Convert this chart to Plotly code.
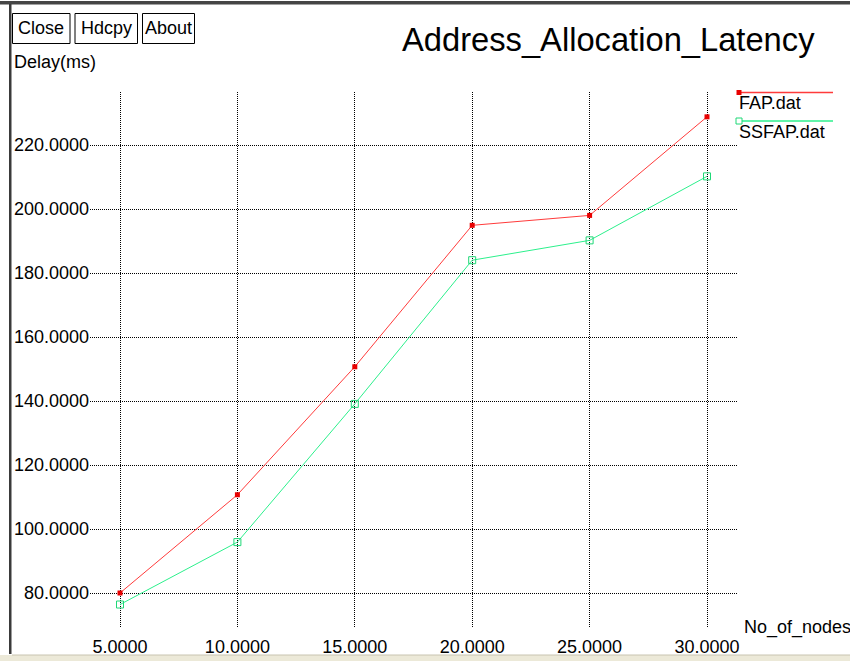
import plotly.graph_objects as go

# Address allocation latency vs. number of nodes
nodes = [5, 10, 15, 20, 25, 30]
fap_delay = [80.0, 110.7, 150.7, 194.9, 198.0, 228.8]
ssfap_delay = [76.4, 95.9, 139.1, 184.0, 190.2, 210.2]
series_names = ["FAP.dat", "SSFAP.dat"]
x_ticks = [5, 10, 15, 20, 25, 30]
y_ticks = [80, 100, 120, 140, 160, 180, 200, 220]

W, H = 850, 661
L, R, T, B = 90, 737, 92, 628  # plot area in pixels
FONT = "Liberation Sans, Arial, Helvetica, sans-serif"
RED_LINE, RED_MARK = "#ff3b3b", "#e80000"
GREEN_LINE, GREEN_MARK = "#2cf08c", "#1fd877"
GRID_DASH = "1px,1px"


def px(x):
    return (x - L) / (R - L)


def py(y):
    return (B - y) / (B - T)


fig = go.Figure()
fig.add_trace(go.Scatter(
    x=nodes, y=fap_delay, mode="lines+markers", name=series_names[0],
    line=dict(color=RED_LINE, width=1),
    marker=dict(symbol="square", size=5, color=RED_MARK, line=dict(width=0)),
    cliponaxis=False,
))
fig.add_trace(go.Scatter(
    x=nodes, y=ssfap_delay, mode="lines+markers", name=series_names[1],
    line=dict(color=GREEN_LINE, width=1),
    marker=dict(symbol="square-open", size=7, color=GREEN_MARK, line=dict(width=1)),
    cliponaxis=False,
))

# axis ranges chosen so that the grid extends past the data like xgraph
x_per_px = 5 / 117.4
y_per_px = 20 / 64.0
x_lo = 5 - (120 - L) * x_per_px
x_hi = x_lo + (R - L) * x_per_px
y_lo = 80 - (B - 593) * y_per_px
y_hi = y_lo + (B - T) * y_per_px

fig.update_layout(
    width=W, height=H,
    margin=dict(l=L, r=W - R, t=T, b=H - B, pad=0, autoexpand=False),
    paper_bgcolor="white", plot_bgcolor="white",
    showlegend=False,
    font=dict(family=FONT, size=18, color="black"),
    xaxis=dict(
        range=[x_lo, x_hi], tickvals=x_ticks,
        ticktext=[f"{v:.4f}" for v in x_ticks],
        showgrid=True, gridcolor="black", griddash=GRID_DASH, gridwidth=1,
        zeroline=False, showline=False, ticks="", automargin=False,
        ticklabelstandoff=6,
        tickfont=dict(size=18, family=FONT, color="black"),
    ),
    yaxis=dict(
        range=[y_lo, y_hi], tickvals=y_ticks,
        ticktext=[f"{v:.4f}" for v in y_ticks],
        showgrid=True, gridcolor="black", griddash=GRID_DASH, gridwidth=1,
        zeroline=False, showline=False, ticks="", automargin=False,
        ticklabelstandoff=0,
        tickfont=dict(size=18, family=FONT, color="black"),
    ),
)

shapes = []
annotations = []

# window frame
shapes.append(dict(type="rect", xref="paper", yref="paper",
                   x0=px(0), x1=px(W), y0=py(1), y1=py(4.5),
                   fillcolor="#454545", line=dict(width=0), layer="above"))
shapes.append(dict(type="rect", xref="paper", yref="paper",
                   x0=px(9), x1=px(11.5), y0=py(4), y1=py(654),
                   fillcolor="#3a3a3a", line=dict(width=0), layer="above"))
shapes.append(dict(type="rect", xref="paper", yref="paper",
                   x0=px(0), x1=px(W), y0=py(655), y1=py(H + 2),
                   fillcolor="#ece9d8", line=dict(width=0), layer="above"))
shapes.append(dict(type="line", xref="paper", yref="paper",
                   x0=px(12), x1=px(W), y0=py(655), y1=py(655),
                   line=dict(color="#c8c4b0", width=1), layer="above"))

# buttons
for label, x0, x1 in [("Close", 12.5, 70), ("Hdcpy", 75, 137.5), ("About", 142.5, 194.5)]:
    shapes.append(dict(type="rect", xref="paper", yref="paper",
                       x0=px(x0), x1=px(x1), y0=py(43.5), y1=py(13.5),
                       line=dict(color="black", width=1), fillcolor="white",
                       layer="above"))
    annotations.append(dict(text=label, xref="paper", yref="paper",
                            x=px((x0 + x1) / 2), y=py(28),
                            xanchor="center", yanchor="middle", showarrow=False,
                            font=dict(size=18, family=FONT, color="black")))

# title and axis names
annotations.append(dict(text="Address_Allocation_Latency", xref="paper", yref="paper",
                        x=px(400), y=py(39), xanchor="left", yanchor="middle",
                        showarrow=False, font=dict(size=32.7, family=FONT, color="black")))
annotations.append(dict(text="Delay(ms)", xref="paper", yref="paper",
                        x=px(12), y=py(62), xanchor="left", yanchor="middle",
                        showarrow=False, font=dict(size=18, family=FONT, color="black")))
annotations.append(dict(text="No_of_nodes", xref="paper", yref="paper",
                        x=px(742), y=py(627), xanchor="left", yanchor="middle",
                        showarrow=False, font=dict(size=18, family=FONT, color="black")))

# legend entries
legend_rows = [
    (series_names[0], 92.5, 102.5, RED_LINE, RED_MARK, True),
    (series_names[1], 121, 131.5, GREEN_LINE, GREEN_MARK, False),
]
for name, ly, ty, lc, mc, filled in legend_rows:
    shapes.append(dict(type="line", xref="paper", yref="paper",
                       x0=px(738), x1=px(833), y0=py(ly), y1=py(ly),
                       line=dict(color=lc, width=1.5)))
    if filled:
        shapes.append(dict(type="rect", xref="paper", yref="paper",
                           x0=px(736.5), x1=px(741.5), y0=py(ly - 2.5), y1=py(ly + 2.5),
                           fillcolor=mc, line=dict(width=0)))
    else:
        shapes.append(dict(type="rect", xref="paper", yref="paper",
                           x0=px(736), x1=px(742), y0=py(ly - 3), y1=py(ly + 3),
                           fillcolor="white", line=dict(color=mc, width=1)))
    annotations.append(dict(text=name, xref="paper", yref="paper",
                            x=px(737), y=py(ty), xanchor="left", yanchor="middle",
                            showarrow=False, font=dict(size=18, family=FONT, color="black")))

fig.update_layout(shapes=shapes, annotations=annotations)
fig.write_html("out.html")
